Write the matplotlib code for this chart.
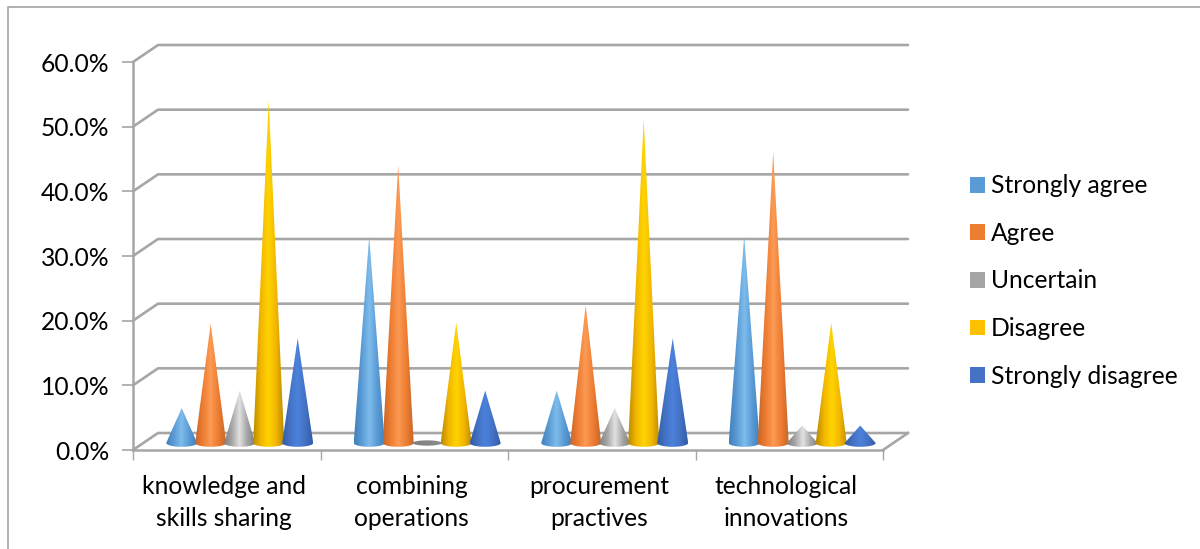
import numpy as np
import matplotlib
matplotlib.use("Agg")
import matplotlib.pyplot as plt
from matplotlib.lines import Line2D
from matplotlib.patches import Patch
from matplotlib.path import Path
from matplotlib.colors import LinearSegmentedColormap

categories = ["knowledge and\nskills sharing", "combining\noperations",
              "procurement\npractives", "technological\ninnovations"]
strongly_agree = [5.4, 32.0, 8.1, 32.0]
agree = [18.5, 43.0, 21.3, 45.0]
uncertain = [8.1, 0.0, 5.4, 2.7]
disagree = [53.0, 18.6, 50.0, 18.6]
strongly_disagree = [16.2, 8.1, 16.2, 2.7]
series_names = ["Strongly agree", "Agree", "Uncertain", "Disagree", "Strongly disagree"]
series_values = [strongly_agree, agree, uncertain, disagree, strongly_disagree]
legend_colors = ["#5B9BD5", "#ED7D31", "#A5A5A5", "#FFC000", "#4472C4"]
gradients = [
    ["#3F80BC", "#5B9BD5", "#7DBCEB", "#5B9BD5", "#3F80BC"],
    ["#C8662A", "#ED7D31", "#FC9A55", "#ED7D31", "#C8662A"],
    ["#7F7F7F", "#A5A5A5", "#E2E2E2", "#A5A5A5", "#7F7F7F"],
    ["#B88A00", "#F2B600", "#FFD400", "#F2B600", "#B88A00"],
    ["#2F5DA6", "#4472C4", "#4C82DC", "#4472C4", "#2F5DA6"],
]
y_ticks = [0, 10, 20, 30, 40, 50, 60]

W, H = 1200, 549
plt.rcParams["font.family"] = ["Lato", "DejaVu Sans"]
fig = plt.figure(figsize=(W / 100, H / 100), dpi=100)
ax = fig.add_axes([133 / W, 1 - 450 / H, 750 / W, 388 / H])
ax.set_xlim(0, 4)
ax.set_ylim(0, 60)
ax.patch.set_visible(False)

GRID = "#A6A6A6"
dx, dy = 25 / 187.5, 17 / 6.47
for v in y_ticks:
    ax.plot([0, dx, 4 + dx], [v, v + dy, v + dy], color=GRID, lw=1.9,
            clip_on=False, zorder=1, solid_capstyle="round")
ax.plot([4, 4 + dx], [0, dy], color=GRID, lw=1.9, clip_on=False, zorder=1)

for s in ("top", "right"):
    ax.spines[s].set_visible(False)
for s in ("left", "bottom"):
    ax.spines[s].set_color(GRID)
    ax.spines[s].set_linewidth(1.8)
    ax.spines[s].set_zorder(2)

ax.set_yticks(y_ticks, [f"{v:.1f}%" for v in y_ticks])
ax.tick_params(axis="y", length=8, width=1.2, color=GRID, labelsize=17.7, pad=9, labelcolor="black")
ax.set_xticks([0, 1, 2, 3, 4])
ax.set_xticklabels([])
ax.set_xticks([0.485, 1.485, 2.485, 3.485], categories, minor=True, linespacing=1.46)
ax.tick_params(axis="x", which="major", length=7, width=1.0, color=GRID)
ax.tick_params(axis="x", which="minor", length=0, labelsize=17.7, pad=18, labelcolor="black")

# Cones
step = 29 / 187.5
half = 15.5 / 187.5
base_y = 7 / 6.47
ell = 3.8 / 6.47
first = 48.7 / 187.5
t = np.linspace(0, np.pi, 40)
for si, (vals, stops) in enumerate(zip(series_values, gradients)):
    cmap = LinearSegmentedColormap.from_list("c", stops)
    grad = np.linspace(0, 1, 128)[None, :]
    for ci, v in enumerate(vals):
        cx = ci + first + si * step
        if v == 0:
            ang = np.linspace(0, 2 * np.pi, 60)
            px = cx + 0.95 * half * np.cos(ang)
            py = base_y + 0.7 * ell * np.sin(ang)
            use_cmap = LinearSegmentedColormap.from_list("g", ["#7F7F7F", "#8C8C8C"])
        else:
            xs = cx + half * np.cos(t)
            ys = base_y - ell * np.sin(t)
            px = np.r_[cx, xs, cx]
            py = np.r_[base_y + v, ys, base_y + v]
            use_cmap = cmap
        im = ax.imshow(grad, cmap=use_cmap,
                       extent=[cx - half, cx + half, base_y - ell, base_y + max(v, ell)],
                       aspect="auto", zorder=3 + si * 0.1, interpolation="bilinear")
        im.set_clip_path(Path(np.c_[px, py]), transform=ax.transData)
ax.set_xlim(0, 4)
ax.set_ylim(0, 60)

# Chart frame
fig.add_artist(Line2D([8 / W, 8 / W, 1], [0, 1 - 7 / H, 1 - 7 / H], color="#ABABAB", lw=1.3))

handles = [Patch(facecolor=c, edgecolor="none") for c in legend_colors]
fig.legend(handles, series_names, loc="center left", bbox_to_anchor=(970 / W, 1 - 281 / H),
           frameon=False, fontsize=17.7, handlelength=0.61, handleheight=0.61, handletextpad=0.25,
           labelspacing=1.0, borderpad=0, borderaxespad=0)

fig.savefig("out.png", dpi=100)
